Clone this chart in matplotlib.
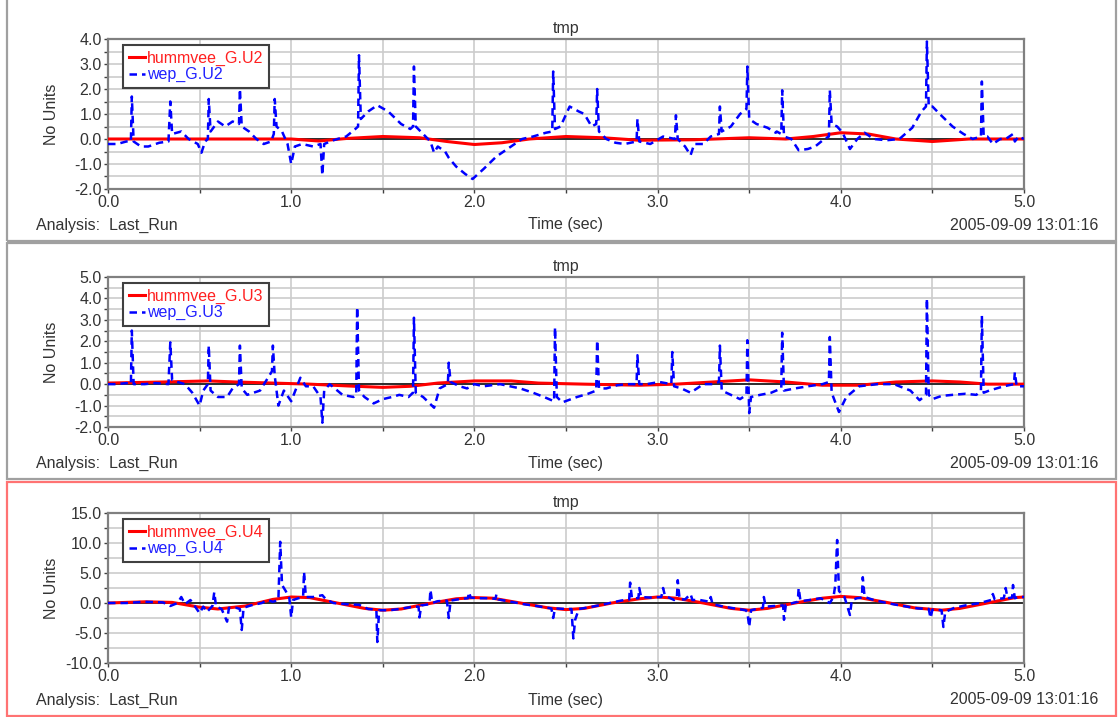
import numpy as np
import matplotlib
matplotlib.use("Agg")
import matplotlib.pyplot as plt
from matplotlib.patches import Rectangle
from matplotlib.ticker import MultipleLocator, FormatStrFormatter

plt.rcParams['font.family'] = ['Liberation Sans', 'DejaVu Sans']

# ---- data (time in sec, value in "No Units") ----
t_hum_u2 = [0.0, 1.0, 1.15, 1.3, 1.5, 1.7, 1.85, 2.0, 2.15, 2.3, 2.5, 2.7, 2.9, 3.2, 3.5,
            3.7, 3.85, 4.0, 4.15, 4.3, 4.5, 4.7, 5.0]
v_hum_u2 = [0.0, 0.0, -0.08, 0.02, 0.1, 0.05, -0.1, -0.22, -0.15, 0.0, 0.1, 0.05, -0.05, -0.03, 0.05,
            0.0, 0.1, 0.25, 0.2, 0.0, -0.1, 0.0, 0.0]

t_wep_u2 = [0.0, 0.05, 0.1, 0.125, 0.13, 0.14, 0.18, 0.22, 0.28, 0.33, 0.34, 0.35, 0.4, 0.44, 0.49,
            0.51, 0.53, 0.545, 0.55, 0.56, 0.6, 0.64, 0.68, 0.715, 0.72, 0.73, 0.77, 0.81, 0.85, 0.89,
            0.905, 0.91, 0.92, 0.95, 0.98, 1.0, 1.02, 1.06, 1.12, 1.16, 1.17, 1.18, 1.23, 1.3, 1.35,
            1.365, 1.37, 1.38, 1.42, 1.47, 1.53, 1.6, 1.65, 1.665, 1.67, 1.68, 1.72, 1.76, 1.78, 1.8,
            1.84, 1.86, 1.9, 1.95, 1.99, 2.05, 2.12, 2.2, 2.26, 2.32, 2.39, 2.425, 2.43, 2.44, 2.47,
            2.52, 2.57, 2.6, 2.64, 2.665, 2.67, 2.68, 2.72, 2.77, 2.82, 2.885, 2.89, 2.9, 2.96, 3.03,
            3.095, 3.1, 3.11, 3.15, 3.18, 3.2, 3.25, 3.29, 3.335, 3.34, 3.35, 3.4, 3.45, 3.485, 3.49,
            3.5, 3.54, 3.6, 3.645, 3.65, 3.675, 3.68, 3.69, 3.73, 3.77, 3.82, 3.86, 3.91, 3.935, 3.94,
            3.95, 3.98, 4.01, 4.05, 4.09, 4.13, 4.18, 4.25, 4.32, 4.39, 4.44, 4.465, 4.47, 4.48, 4.5,
            4.54, 4.61, 4.67, 4.72, 4.765, 4.77, 4.78, 4.8, 4.83, 4.87, 4.9, 4.94, 4.95, 4.97, 5.0]
v_wep_u2 = [-0.2, -0.2, -0.1, -0.1, 1.7, -0.1, -0.3, -0.3, -0.15, -0.1, 1.5, 0.2, 0.3, 0.0, -0.2,
            -0.55, -0.1, 0.0, 1.6, 0.3, 0.7, 0.5, 0.7, 0.6, 2.0, 0.5, 0.3, 0.0, -0.2, -0.1,
            0.2, 1.6, 0.5, 0.3, -0.2, -1.0, -0.3, -0.2, -0.3, -0.2, -1.45, -0.2, -0.05, 0.1, 0.4,
            0.5, 3.35, 0.8, 1.1, 1.35, 1.1, 0.6, 0.4, 0.5, 2.9, 0.5, 0.2, -0.1, -0.55, -0.3,
            -0.5, -0.75, -1.1, -1.4, -1.6, -1.2, -0.7, -0.3, 0.0, 0.1, 0.25, 0.3, 2.7, 0.4, 0.5,
            1.3, 1.1, 1.0, 0.5, 0.6, 2.0, 0.3, 0.0, -0.15, -0.2, -0.1, 0.8, -0.1, -0.2, 0.1,
            0.0, 0.95, 0.0, -0.3, -0.65, -0.2, -0.2, 0.1, 0.2, 1.3, 0.3, 0.5, 1.0, 1.2, 2.9,
            0.8, 0.6, 0.45, 0.25, 0.3, 0.2, 1.95, 0.1, 0.0, -0.45, -0.4, -0.3, 0.0, 0.1, 1.95,
            0.6, 0.5, 0.25, -0.4, 0.0, 0.25, 0.0, -0.05, 0.0, 0.45, 1.1, 1.3, 3.9, 1.3, 1.3,
            1.0, 0.5, 0.2, 0.0, 0.1, 2.3, 0.1, 0.1, -0.2, 0.0, 0.0, 0.2, -0.1, 0.1, 0.0]

t_hum_u3 = [0.0, 0.3, 0.55, 0.7, 0.9, 1.1, 1.35, 1.5, 1.65, 1.8, 2.0, 2.2, 2.35, 2.6, 2.9,
            3.1, 3.3, 3.5, 3.7, 3.9, 4.1, 4.3, 4.5, 4.65, 4.8, 5.0]
v_hum_u3 = [0.05, 0.1, 0.15, 0.1, 0.05, 0.0, -0.1, -0.15, -0.1, 0.05, 0.15, 0.15, 0.05, 0.0, -0.05,
            0.0, 0.1, 0.2, 0.1, -0.05, -0.05, 0.1, 0.15, 0.1, 0.0, 0.0]

t_wep_u3 = [0.0, 0.05, 0.1, 0.125, 0.13, 0.14, 0.2, 0.26, 0.33, 0.34, 0.35, 0.38, 0.42, 0.46, 0.5,
            0.52, 0.545, 0.55, 0.56, 0.6, 0.65, 0.68, 0.715, 0.72, 0.73, 0.76, 0.83, 0.895, 0.9, 0.91,
            0.93, 0.96, 1.0, 1.05, 1.08, 1.12, 1.16, 1.17, 1.18, 1.21, 1.28, 1.34, 1.355, 1.36, 1.37,
            1.4, 1.45, 1.5, 1.55, 1.59, 1.64, 1.665, 1.67, 1.68, 1.72, 1.78, 1.81, 1.855, 1.86, 1.87,
            1.92, 1.96, 2.0, 2.05, 2.14, 2.25, 2.32, 2.38, 2.435, 2.44, 2.45, 2.48, 2.56, 2.62, 2.665,
            2.67, 2.68, 2.72, 2.78, 2.83, 2.885, 2.89, 2.9, 2.94, 3.01, 3.075, 3.08, 3.09, 3.13, 3.18,
            3.25, 3.3, 3.335, 3.34, 3.35, 3.4, 3.45, 3.485, 3.49, 3.5, 3.51, 3.56, 3.62, 3.675, 3.68,
            3.69, 3.75, 3.82, 3.9, 3.935, 3.94, 3.95, 3.99, 4.03, 4.1, 4.2, 4.29, 4.38, 4.43, 4.465,
            4.47, 4.48, 4.5, 4.55, 4.61, 4.68, 4.74, 4.765, 4.77, 4.78, 4.81, 4.89, 4.945, 4.95, 4.96,
            5.0]
v_wep_u3 = [0.0, 0.0, 0.05, 0.0, 2.5, 0.0, 0.0, 0.05, 0.0, 1.95, 0.2, 0.1, 0.0, -0.4, -1.0,
            -0.3, 0.0, 1.8, -0.3, -0.6, -0.6, -0.2, 0.0, 1.8, -0.2, -0.5, -0.3, 0.6, 1.8, 0.4,
            -1.0, -0.3, -0.8, 0.3, -0.1, -0.1, -0.6, -1.8, -0.3, 0.0, -0.5, -0.6, -0.5, 3.6, -0.3,
            -0.6, -0.9, -0.7, -0.6, -0.5, -0.6, -0.4, 3.1, -0.4, -0.6, -1.1, -0.2, 0.0, 1.0, 0.1,
            -0.1, -0.2, 0.0, -0.1, 0.0, -0.2, -0.4, -0.6, -0.8, 2.65, -0.6, -0.85, -0.6, -0.45, -0.3,
            2.05, -0.2, -0.2, -0.05, 0.0, 0.0, 1.35, 0.0, 0.0, 0.1, 0.0, 1.5, -0.1, -0.2, -0.4,
            0.0, 0.0, 0.1, 1.8, -0.3, -0.5, -0.7, -0.5, 2.05, -1.35, -0.6, -0.5, -0.4, -0.2, 2.4,
            -0.3, -0.2, -0.1, 0.0, 0.1, 2.2, -0.4, -1.3, -0.6, -0.1, 0.0, 0.0, -0.3, -0.75, -0.5,
            4.0, -0.5, -0.7, -0.55, -0.5, -0.45, -0.5, -0.3, 3.2, -0.4, -0.3, -0.1, 0.0, 0.55, -0.1,
            -0.1]

t_hum_u4 = [0.0, 0.2, 0.35, 0.5, 0.6, 0.75, 0.9, 1.0, 1.1, 1.25, 1.4, 1.5, 1.6, 1.75, 1.9,
            2.0, 2.1, 2.25, 2.4, 2.5, 2.6, 2.75, 2.9, 3.0, 3.1, 3.25, 3.4, 3.5, 3.6, 3.75,
            3.9, 4.0, 4.1, 4.25, 4.4, 4.55, 4.65, 4.8, 4.95, 5.0]
v_hum_u4 = [0.0, 0.2, 0.1, -0.7, -1.0, -0.5, 0.6, 1.0, 0.9, 0.0, -0.9, -1.2, -1.0, -0.1, 0.7,
            0.9, 0.8, 0.0, -0.8, -1.1, -0.9, 0.0, 0.7, 1.0, 0.8, 0.0, -0.9, -1.2, -0.9, 0.0,
            0.8, 1.1, 0.9, 0.1, -0.8, -1.2, -0.9, 0.0, 0.9, 1.0]

t_wep_u4 = [0.0, 0.1, 0.2, 0.3, 0.34, 0.38, 0.4, 0.42, 0.45, 0.48, 0.5, 0.52, 0.54, 0.57, 0.58,
            0.59, 0.62, 0.65, 0.66, 0.7, 0.72, 0.73, 0.74, 0.78, 0.84, 0.87, 0.9, 0.93, 0.94, 0.95,
            0.97, 0.99, 1.0, 1.01, 1.04, 1.065, 1.07, 1.08, 1.12, 1.17, 1.19, 1.23, 1.3, 1.37, 1.42,
            1.465, 1.47, 1.48, 1.54, 1.59, 1.65, 1.695, 1.7, 1.71, 1.755, 1.76, 1.77, 1.8, 1.85, 1.86,
            1.87, 1.93, 1.965, 1.97, 1.98, 2.02, 2.08, 2.115, 2.12, 2.13, 2.2, 2.27, 2.34, 2.4, 2.42,
            2.43, 2.44, 2.5, 2.53, 2.54, 2.55, 2.57, 2.61, 2.68, 2.74, 2.8, 2.845, 2.85, 2.86, 2.88,
            2.895, 2.9, 2.91, 2.96, 3.02, 3.03, 3.04, 3.07, 3.09, 3.105, 3.11, 3.12, 3.15, 3.18, 3.19,
            3.23, 3.285, 3.29, 3.3, 3.36, 3.42, 3.48, 3.49, 3.5, 3.51, 3.54, 3.575, 3.58, 3.59, 3.64,
            3.685, 3.69, 3.7, 3.74, 3.765, 3.77, 3.78, 3.83, 3.89, 3.94, 3.96, 3.97, 3.98, 3.99, 4.02,
            4.05, 4.06, 4.09, 4.115, 4.12, 4.13, 4.18, 4.25, 4.34, 4.42, 4.48, 4.49, 4.5, 4.55, 4.56,
            4.57, 4.62, 4.68, 4.76, 4.82, 4.83, 4.84, 4.89, 4.9, 4.91, 4.935, 4.94, 4.95, 4.97, 5.0]
v_wep_u4 = [0.0, 0.0, 0.2, 0.1, -0.5, 0.0, 1.0, -0.2, 0.5, -0.8, -1.7, -0.6, -1.5, -0.5, 1.8,
            -0.6, -1.0, -3.1, -0.8, -0.8, -1.0, -4.5, -0.8, -0.4, 0.0, 0.5, 0.2, 0.5, 10.2, 3.0,
            2.0, 0.8, -2.4, 0.5, 0.8, 1.0, 5.2, 1.0, 1.0, 1.3, 0.6, 0.0, -0.2, -0.3, -1.0,
            -1.1, -6.5, -1.2, -1.2, -1.0, -0.7, -0.6, -2.4, -0.4, -0.2, 2.2, 0.0, 0.3, 0.4, -2.5,
            0.4, 0.7, 0.8, 1.8, 0.9, 0.8, 0.8, 0.7, 1.4, 0.6, 0.2, -0.2, -0.5, -0.8, -0.9,
            -2.5, -0.9, -1.0, -1.0, -5.9, -2.8, -1.0, -0.8, -0.4, 0.0, 0.4, 0.6, 3.4, 0.8, 0.8,
            0.8, 2.5, 1.0, 0.9, 1.0, 2.5, 1.2, 0.8, 0.5, 0.7, 3.8, 0.6, 0.6, 1.5, 0.5,
            0.5, 0.2, 1.0, -0.2, -0.6, -0.9, -1.2, -1.5, -4.0, -1.2, -1.0, -0.8, 1.0, -0.6, -0.5,
            -0.4, -2.8, -0.3, 0.0, 0.2, 2.5, 0.3, 0.5, 0.8, 0.0, 1.0, 3.0, 10.5, 2.0, 1.0,
            -2.0, 0.5, 0.8, 0.9, 4.3, 1.0, 0.5, 0.0, -0.5, -0.9, -1.0, -2.5, -1.1, -1.2, -4.0,
            -1.5, -0.8, -0.4, 0.0, 0.5, 1.5, 0.6, 0.8, 2.5, 0.8, 0.9, 3.0, 0.8, 1.0, 1.0]

panels = [
    ("U2", t_hum_u2, v_hum_u2, t_wep_u2, v_wep_u2, (-2.0, 4.0), 1.0, 0.5),
    ("U3", t_hum_u3, v_hum_u3, t_wep_u3, v_wep_u3, (-2.0, 5.0), 1.0, 0.5),
    ("U4", t_hum_u4, v_hum_u4, t_wep_u4, v_wep_u4, (-10.0, 15.0), 5.0, 2.5),
]

W, H = 1118, 717
fig = plt.figure(figsize=(W / 100, H / 100), dpi=100)
fig.patch.set_facecolor("white")

ax_tops = [39, 277, 513]   # pixel rows of axes tops
ax_h = 150
ax_left, ax_w = 108, 916
text_rows = [225, 463, 700]
frames = [(-3, 241, "#a0a0a0"), (243, 479, "#a0a0a0"), (482, 716, "#ff7373")]
fs = 11.5
txt_col = "#333333"

for (name, th, vh, tw, vw, ylim, ymaj, ymin), top, row, fr in zip(panels, ax_tops, text_rows, frames):
    # panel frame
    y0, y1, col = fr
    fig.add_artist(Rectangle((7 / W, 1 - y1 / H), (1116 - 7) / W, (y1 - y0) / H,
                             transform=fig.transFigure, fill=False, edgecolor=col, lw=1.6))

    ax = fig.add_axes([ax_left / W, 1 - (top + ax_h) / H, ax_w / W, ax_h / H])
    ax.axhline(0, color="#202020", lw=1.3, zorder=1)
    ax.plot(th, vh, color="#ff0000", lw=2.2, label="hummvee_G." + name, zorder=3)
    ax.plot(tw, vw, color="#0000ff", lw=1.8, dashes=(3, 2), label="wep_G." + name, zorder=4)

    ax.set_xlim(0, 5)
    ax.set_ylim(*ylim)
    ax.xaxis.set_major_locator(MultipleLocator(1.0))
    ax.xaxis.set_minor_locator(MultipleLocator(0.5))
    ax.yaxis.set_major_locator(MultipleLocator(ymaj))
    ax.yaxis.set_minor_locator(MultipleLocator(ymin))
    ax.xaxis.set_major_formatter(FormatStrFormatter("%.1f"))
    ax.yaxis.set_major_formatter(FormatStrFormatter("%.1f"))
    ax.grid(which="both", color="#cccccc", lw=1.2, zorder=0)
    ax.set_axisbelow(True)
    ax.tick_params(which="both", direction="out", length=3, width=1, color="#404040",
                   labelsize=fs, labelcolor=txt_col, pad=1.5)
    for sp in ax.spines.values():
        sp.set_color("#808080")
        sp.set_linewidth(1.6)

    ax.set_title("tmp", fontsize=fs, color=txt_col, pad=4)
    ax.set_ylabel("No Units", fontsize=fs, color=txt_col)
    ax.yaxis.set_label_coords((52 - ax_left) / ax_w, 0.5)
    ax.yaxis.label.set_va("center")
    ax.set_xlabel("Time (sec)", fontsize=fs, color=txt_col)
    ax.xaxis.set_label_coords(0.5, -(row - (top + ax_h)) / ax_h)
    ax.xaxis.label.set_va("center")

    leg = ax.legend(loc="upper left", bbox_to_anchor=(15 / ax_w, 1 - 6 / ax_h), borderaxespad=0,
                    fancybox=False, edgecolor="#404040", framealpha=1, fontsize=fs,
                    handlelength=1.0, handletextpad=0.15, borderpad=0.35, labelspacing=0.1)
    leg.get_frame().set_linewidth(1.5)
    for txt, c in zip(leg.get_texts(), ["#ff2020", "#2020ff"]):
        txt.set_color(c)

    fig.text(36 / W, 1 - row / H, "Analysis:  Last_Run", fontsize=fs, color=txt_col,
             ha="left", va="center")
    fig.text(1098 / W, 1 - row / H, "2005-09-09 13:01:16", fontsize=fs, color=txt_col,
             ha="right", va="center")

fig.savefig("out.png", dpi=100)
